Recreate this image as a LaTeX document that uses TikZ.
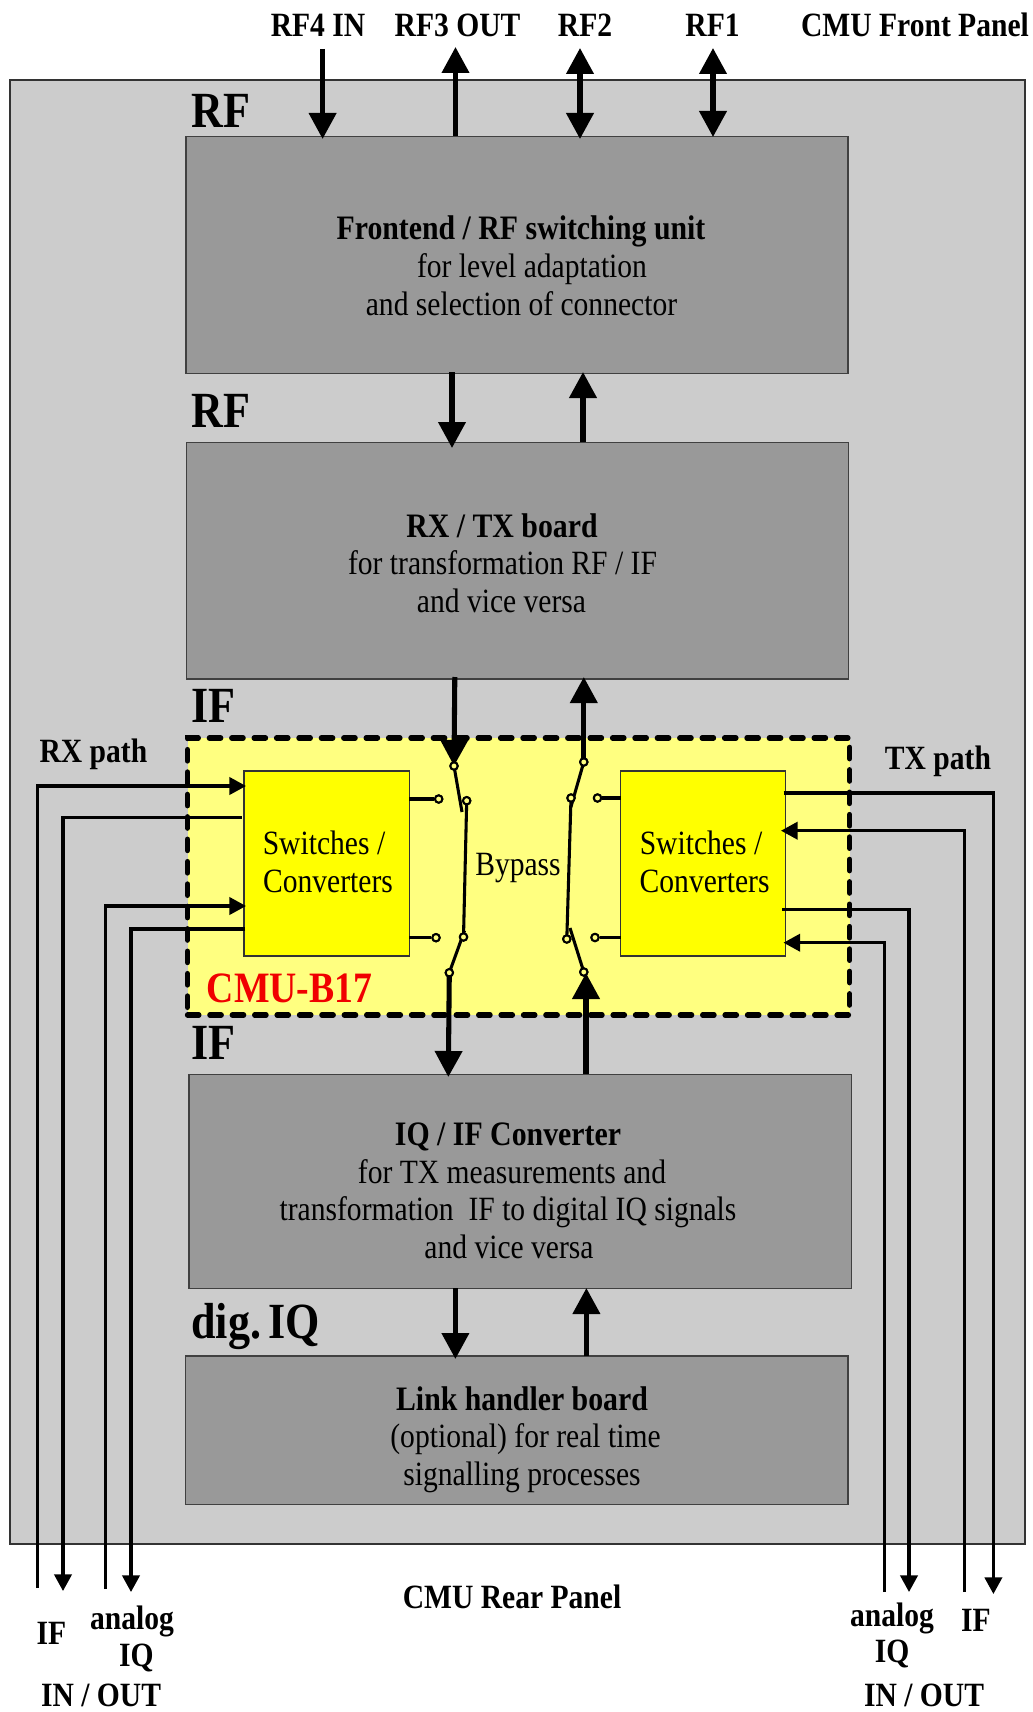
\documentclass[tikz,border=0pt]{standalone}
\usepackage{fontspec}
\setmainfont{Liberation Serif}[FakeStretch=0.87]
\usetikzlibrary{arrows.meta}
\definecolor{panelgray}{HTML}{CCCCCC}
\definecolor{boxgray}{HTML}{999999}
\definecolor{paleyellow}{HTML}{FFFF80}
\definecolor{fullyellow}{HTML}{FFFF00}
\definecolor{swred}{HTML}{F00000}
\newcommand{\pxnode}[6]{\node[#2,anchor=north west,inner sep=0pt,outer sep=0pt,minimum width={(#5-#3)*.75pt},minimum height={(#6-#4)*.75pt}] (#1) at (#3,#4) {};}
\tikzset{
 x=.75pt,y=-.75pt,
 panel/.style={fill=panelgray,draw=black!80,line width=2.2pt},
 unit/.style={fill=boxgray,draw=black!75,line width=.9pt},
 yunit/.style={fill=fullyellow,draw=black!80,line width=.9pt},
 optbox/.style={fill=paleyellow,draw=black,line width=4pt,dash pattern=on 8.5pt off 8.3pt,line cap=round},
 bigtip/.style={-{Triangle[length=19.5pt,width=20pt]}},
 bigboth/.style={{Triangle[length=19.5pt,width=20pt]}-{Triangle[length=19.5pt,width=20pt]}},
 smalltip/.style={-{Triangle[length=12.5pt,width=13pt]}},
 bus/.style={line width=3.8pt},
 sig/.style={line width=2.3pt},
 wire/.style={line width=2.3pt},
 pin/.style={circle,fill=paleyellow,draw=black,line width=1.5pt,minimum size=5.5pt,inner sep=0pt},
 head/.style={inner sep=0pt,text height=32.3pt,text depth=7.6pt,font=\fontsize{38}{38}\selectfont\bfseries,anchor=west},
 bt/.style={inner sep=0pt,text height=21.8pt,text depth=5.1pt,font=\fontsize{25.7}{26}\selectfont\bfseries},
 nt/.style={inner sep=0pt,text height=21.7pt,text depth=5.1pt,font=\fontsize{25.5}{26}\selectfont},
 lbl/.style={inner sep=0pt,text height=21.7pt,text depth=5.1pt,font=\fontsize{25.5}{26}\selectfont\bfseries},
 botlbl/.style={inner sep=0pt,anchor=base,font=\fontsize{25.5}{26}\selectfont\bfseries},
 redlbl/.style={inner sep=0pt,text height=27.6pt,text depth=6.5pt,font=\fontsize{32.5}{33}\selectfont\bfseries,text=swred},
}
\begin{document}
\begin{tikzpicture}
\useasboundingbox (0,0) rectangle (1032,1712);
% panels and boxes
\pxnode{panel}{panel}{10}{80}{1025}{1544}
\pxnode{rf}{unit}{186}{136.5}{848}{373.5}
\pxnode{rx}{unit}{186.5}{442.5}{848.7}{679}
\pxnode{opt}{optbox}{187.5}{738}{849.6}{1015}
\pxnode{sl}{yunit}{244}{771}{409.3}{956}
\pxnode{sr}{yunit}{620.5}{771}{785.8}{956}
\pxnode{iq}{unit}{189}{1074.3}{851.5}{1288.6}
\pxnode{lh}{unit}{185.6}{1356}{848}{1504.7}
% front panel connectors
\coordinate (rf4a) at (322.6,49); \coordinate (rf4b) at (322.6,139);
\coordinate (rf3a) at (455.5,136); \coordinate (rf3b) at (455.5,47);
\coordinate (rf2a) at (580,48); \coordinate (rf2b) at (580,139);
\coordinate (rf1a) at (713,48); \coordinate (rf1b) at (713,137);
\draw[bus,bigtip] (rf4a) -- (rf4b);
\draw[bus,bigtip] (rf3a) -- (rf3b);
\draw[bus,bigboth] (rf2a) -- (rf2b);
\draw[bus,bigboth] (rf1a) -- (rf1b);
% between boxes
\coordinate (r1a) at (452,372); \coordinate (r1b) at (452,448);
\coordinate (r2a) at (583,442); \coordinate (r2b) at (583,372);
\draw[bus,bigtip] (r1a) -- (r1b);
\draw[bus,bigtip] (r2a) -- (r2b);
\coordinate (d1a) at (455.4,1288); \coordinate (d1b) at (455.4,1359);
\coordinate (d2a) at (586.4,1356); \coordinate (d2b) at (586.4,1288);
\draw[bus,bigtip] (d1a) -- (d1b);
\draw[bus,bigtip] (d2a) -- (d2b);
% bypass switches, left
\coordinate (lin) at (454.8,677);
\node[pin] (lt) at (454,766) {};
\node[pin] (ltc) at (466.7,800.7) {};
\node[pin] (lbc) at (463.5,937) {};
\node[pin] (lb) at (449.3,972.7) {};
\node[pin] (lsa) at (438.7,799) {};
\node[pin] (lsb) at (436,937.7) {};
\coordinate (lte) at (462,812); \coordinate (lbe) at (464.5,930.7);
\coordinate (lout) at (448.3,1077);
\coordinate (lsa0) at (409.3,799); \coordinate (lsb0) at (409.3,937.7);
\draw[wire] (lsa0) -- (lsa);
\draw[wire] (lsb0) -- (lsb);
\draw[wire] (ltc.center) -- (lbc.center);
\draw[wire] (lt.center) -- (lte);
\draw[wire] (lb.center) -- (lbe);
\draw[bus,bigtip] (lin) -- (lt.center);
\draw[bus,bigtip] (lb.center) -- (lout);
% bypass switches, right
\coordinate (rout) at (583.8,677);
\node[pin] (rt) at (583.8,762) {};
\node[pin] (rtc) at (571,798) {};
\node[pin] (rbc) at (566.8,939) {};
\node[pin] (rb) at (583.8,972) {};
\node[pin] (rsa) at (597.5,798) {};
\node[pin] (rsb) at (595,937.5) {};
\coordinate (rte) at (571,806.7); \coordinate (rbe) at (570,928);
\coordinate (rin) at (586,1074);
\coordinate (rtip) at (586,973);
\coordinate (rsa0) at (620.5,798); \coordinate (rsb0) at (620.5,937.5);
\draw[wire] (rsa0) -- (rsa);
\draw[wire] (rsb0) -- (rsb);
\draw[wire] (rtc.center) -- (rbc.center);
\draw[wire] (rt.center) -- (rte);
\draw[wire] (rb.center) -- (rbe);
\draw[bus,bigtip] (rt.center) -- (rout);
\draw[bus,bigtip] (rin) -- (rtip);
\foreach \p in {lt,ltc,lbc,lb,lsa,lsb,rt,rtc,rbc,rb,rsa,rsb}{\node[pin] at (\p) {};}
% rear side signal lines, left
\coordinate (a1) at (37.5,1588); \coordinate (a1c) at (37.5,786); \coordinate (a1e) at (246,786);
\coordinate (a2) at (241.7,817.7); \coordinate (a2c) at (63,817.7); \coordinate (a2e) at (63,1591);
\coordinate (a3) at (105.3,1589); \coordinate (a3c) at (105.3,906); \coordinate (a3e) at (246,906);
\coordinate (a4) at (245,929); \coordinate (a4c) at (131,929); \coordinate (a4e) at (131,1592);
\draw[sig,smalltip] (a1) -- (a1c) -- (a1e);
\draw[sig,smalltip] (a2) -- (a2c) -- (a2e);
\draw[sig,smalltip] (a3) -- (a3c) -- (a3e);
\draw[sig,smalltip] (a4) -- (a4c) -- (a4e);
% rear side signal lines, right
\coordinate (b1) at (783.5,793); \coordinate (b1c) at (993.4,793); \coordinate (b1e) at (993.4,1594);
\coordinate (b2) at (964.5,1592); \coordinate (b2c) at (964.5,830.7); \coordinate (b2e) at (781,830.7);
\coordinate (b3) at (782,909.7); \coordinate (b3c) at (909,909.7); \coordinate (b3e) at (909,1592);
\coordinate (b4) at (884.8,1592); \coordinate (b4c) at (884.8,942.7); \coordinate (b4e) at (783.5,942.7);
\draw[sig,smalltip] (b1) -- (b1c) -- (b1e);
\draw[sig,smalltip] (b2) -- (b2c) -- (b2e);
\draw[sig,smalltip] (b3) -- (b3c) -- (b3e);
\draw[sig,smalltip] (b4) -- (b4c) -- (b4e);
% headings
\node[head] (h1) at (191,111) {RF};
\node[head] (h2) at (191,410.6) {RF};
\node[head] (h3) at (191,706.5) {IF};
\node[head] (h4) at (191,1043) {IF};
\node[head] (h5) at (191,1322) {dig.\hspace{.14em}IQ};
% top labels
\node[lbl] (t1) at (318,25) {RF4 IN};
\node[lbl] (t2) at (457.5,25) {RF3 OUT};
\node[lbl] (t3) at (585,25) {RF2};
\node[lbl] (t4) at (712.5,25) {RF1};
\node[lbl] (t5) at (915,25) {CMU Front Panel};
% box texts
\node[bt] (x1) at (521,228) {Frontend / RF switching unit};
\node[nt] (x2) at (532,266.5) {for level adaptation};
\node[nt] (x3) at (521.5,304.5) {and selection of connector};
\node[bt] (x4) at (502,526) {RX / TX board};
\node[nt] (x5) at (502.5,563.5) {for transformation RF / IF};
\node[nt] (x6) at (501.5,601.7) {and vice versa};
\node[nt] (x7) at (324,843) {Switches /};
\node[nt] (x8) at (328,881) {Converters};
\node[nt] (x9) at (701,843) {Switches /};
\node[nt] (x10) at (704.6,881) {Converters};
\node[nt] (x11) at (518,864) {Bypass};
\node[redlbl] (x12) at (289.5,988) {CMU-B17};
\node[bt] (x13) at (508,1134.6) {IQ / IF Converter};
\node[nt] (x14) at (512,1172) {for TX measurements and};
\node[nt] (x15) at (508,1209) {transformation\ \ IF to digital IQ signals};
\node[nt] (x16) at (509,1247) {and vice versa};
\node[bt] (x17) at (522,1399) {Link handler board};
\node[nt] (x18) at (525.5,1436) {(optional) for real time};
\node[nt] (x19) at (522,1474) {signalling processes};
% side labels
\node[lbl] (s1) at (93.4,751) {RX path};
\node[lbl] (s2) at (938,758) {TX path};
\node[lbl] (s3) at (512,1597) {CMU Rear Panel};
\node[lbl] (s4) at (51.3,1633.6) {IF};
\node[lbl] (s5) at (132,1618) {analog};
\node[lbl] (s6) at (136.5,1655) {IQ};
\node[botlbl] (s7) at (101,1706) {IN / OUT};
\node[lbl] (s8) at (892,1615) {analog};
\node[lbl] (s9) at (892,1651) {IQ};
\node[lbl] (s10) at (976,1620.6) {IF};
\node[botlbl] (s11) at (924,1706) {IN / OUT};
\end{tikzpicture}
\end{document}
